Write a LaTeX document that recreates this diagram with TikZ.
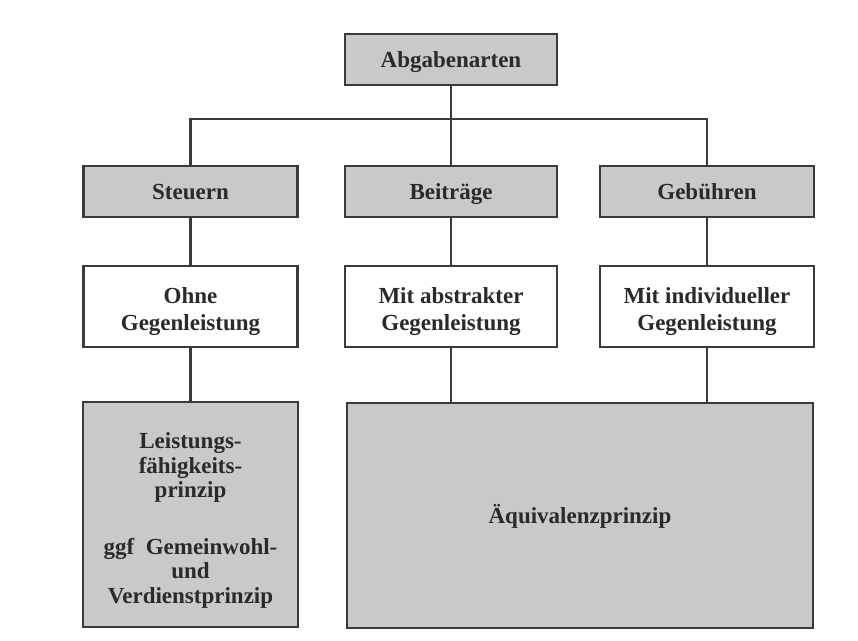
\documentclass[tikz,border=0pt]{standalone}
\usepackage{fontspec}
\setmainfont{Liberation Serif}
\definecolor{boxfill}{HTML}{C9C9C9}
\definecolor{edge}{HTML}{3A3A3A}
\definecolor{ink}{HTML}{2A2A2A}
\begin{document}
\begin{tikzpicture}[x=1pt,y=-1pt,
  base/.style={draw=edge,line width=2.8pt,inner sep=0pt,align=center,text=ink,
    text height=15.5pt,text depth=0pt,
    font=\bfseries\fontsize{23}{27}\selectfont},
  graybox/.style={base,fill=boxfill},
  whitebox/.style={base,fill=white,text height=47pt},
  conn/.style={draw=edge,line width=2.6pt}]
\useasboundingbox[fill=white] (0,0) rectangle (858,640);
\node[graybox,minimum width=212pt,minimum height=51pt] (abg) at (451,59.5) {Abgabenarten};
\node[graybox,minimum width=214pt,minimum height=51pt] (st) at (190.5,191.5) {Steuern};
\node[graybox,minimum width=212pt,minimum height=51pt] (bei) at (451,191.5) {Beiträge};
\node[graybox,minimum width=214pt,minimum height=51pt] (geb) at (707,191.5) {Gebühren};
\node[whitebox,minimum width=214pt,minimum height=81pt] (ohne) at (190.5,306.5) {Ohne\\Gegenleistung};
\node[whitebox,minimum width=212pt,minimum height=81pt] (mab) at (451,306.5) {Mit abstrakter\\Gegenleistung};
\node[whitebox,minimum width=214pt,minimum height=81pt] (mind) at (707,306.5) {Mit individueller\\Gegenleistung};
\node[graybox,minimum width=215pt,minimum height=225pt,text height=177pt,
  font=\bfseries\fontsize{23}{24.5}\selectfont] (leist) at (190.5,514.5)
  {Leistungs-\\fähigkeits-\\prinzip\\[32pt]ggf\ \ Gemeinwohl-\\und\\Verdienstprinzip};
\node[graybox,minimum width=466pt,minimum height=225pt] (aeq) at (580,515.5) {Äquivalenzprinzip};
\coordinate (bar) at (451,119);
\draw[conn] (abg.south) -- (abg.south |- bar);
\draw[conn] (st.north) -- (st.north |- bar) -- (geb.north |- bar) -- (geb.north);
\draw[conn] (bei.north) -- (bei.north |- bar);
\draw[conn] (st.south) -- (ohne.north);
\draw[conn] (bei.south) -- (mab.north);
\draw[conn] (geb.south) -- (mind.north);
\draw[conn] (ohne.south) -- (leist.north);
\draw[conn] (mab.south) -- (mab.south |- aeq.north);
\draw[conn] (mind.south) -- (mind.south |- aeq.north);
\end{tikzpicture}
\end{document}
